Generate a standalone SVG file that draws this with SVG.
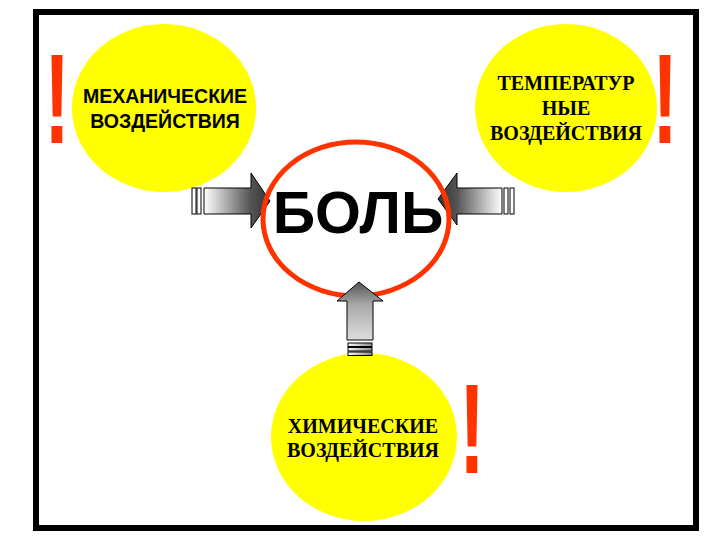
<svg xmlns="http://www.w3.org/2000/svg" width="720" height="540" viewBox="0 0 720 540">
<defs>
<style>
.yc{fill:#ffff00}
.ex{fill:#ff3300;font-family:"Liberation Sans",Arial,sans-serif;font-weight:bold;font-size:128px;text-anchor:middle}
.ts{font-family:"Liberation Sans",Arial,sans-serif;font-weight:bold;font-size:19.5px;text-anchor:middle;fill:#000}
.tr{font-family:"Liberation Serif","Times New Roman",serif;font-weight:bold;font-size:20px;text-anchor:middle;fill:#000}
.ar{stroke:#000;stroke-width:1}
.bar{fill:#fff;stroke:#000;stroke-width:1}
</style>
<linearGradient id="gl" gradientUnits="userSpaceOnUse" x1="204" y1="0" x2="270" y2="0">
<stop offset="0" stop-color="#ffffff"/><stop offset="0.7" stop-color="#555"/><stop offset="1" stop-color="#333"/>
</linearGradient>
<linearGradient id="gr" gradientUnits="userSpaceOnUse" x1="502" y1="0" x2="438" y2="0">
<stop offset="0" stop-color="#ffffff"/><stop offset="0.7" stop-color="#555"/><stop offset="1" stop-color="#333"/>
</linearGradient>
<linearGradient id="gb" gradientUnits="userSpaceOnUse" x1="0" y1="282" x2="0" y2="340">
<stop offset="0" stop-color="#555"/><stop offset="0.4" stop-color="#aaa"/><stop offset="1" stop-color="#ddd"/>
</linearGradient>
<linearGradient id="gbar" gradientUnits="userSpaceOnUse" x1="347" y1="0" x2="373" y2="0">
<stop offset="0" stop-color="#fff"/><stop offset="1" stop-color="#888"/>
</linearGradient>
</defs>
<rect x="0" y="0" width="720" height="540" fill="#fff"/>
<rect id="frame" x="36" y="12" width="660" height="516" fill="#fff" stroke="#000" stroke-width="6"/>

<g id="node-mech">
<ellipse class="yc" cx="164" cy="108" rx="92" ry="84"/>
<text class="ts" x="165" y="103">МЕХАНИЧЕСКИЕ</text>
<text class="ts" x="165" y="128">ВОЗДЕЙСТВИЯ</text>
</g>
<g id="node-temp">
<ellipse class="yc" cx="566" cy="108" rx="91" ry="84"/>
<text class="tr" x="566" y="90">ТЕМПЕРАТУР</text>
<text class="tr" x="566" y="115">НЫЕ</text>
<text class="tr" x="566" y="140">ВОЗДЕЙСТВИЯ</text>
</g>
<g id="node-chem">
<ellipse class="yc" cx="364" cy="437" rx="93" ry="84"/>
<text class="tr" x="363" y="433">ХИМИЧЕСКИЕ</text>
<text class="tr" x="363" y="457">ВОЗДЕЙСТВИЯ</text>
</g>

<g id="marks">
<text class="ex" transform="translate(57,143) scale(0.6,1)" x="0" y="0">!</text>
<text class="ex" transform="translate(665,143) scale(0.6,1)" x="0" y="0">!</text>
<text class="ex" transform="translate(472,473) scale(0.6,1)" x="0" y="0">!</text>
</g>

<g id="connectors">
<g id="arrow-left">
<rect class="bar" x="192" y="188" width="4" height="26"/>
<rect class="bar" x="197" y="188" width="4" height="26"/>
<path class="ar" fill="url(#gl)" d="M204,188 H251 V173 L270,201 L251,228 V214 H204 Z"/>
</g>
<g id="arrow-right">
<rect class="bar" x="504" y="188" width="4" height="26"/>
<rect class="bar" x="510" y="188" width="4" height="26"/>
<path class="ar" fill="url(#gr)" d="M502,188 H457 V173 L438,199 L457,225 V214 H502 Z"/>
</g>
</g>

<g id="node-pain">
<ellipse cx="356" cy="219" rx="93" ry="77" fill="none" stroke="#ff3300" stroke-width="5"/>
</g>

<g id="arrow-bottom">
<path class="ar" fill="url(#gb)" d="M347,340 V301 H337 L359,282 L383,301 H373 V340 Z"/>
<rect class="bar" x="348" y="343" width="24" height="3.5" style="fill:url(#gbar)"/>
<rect class="bar" x="348" y="347.5" width="24" height="3.5" style="fill:url(#gbar)"/>
<rect class="bar" x="348" y="352" width="24" height="3.5" style="fill:url(#gbar)"/>
</g>

<text x="358" y="233" font-family="'Liberation Sans',Arial,sans-serif" font-weight="bold" font-size="59" text-anchor="middle" fill="#000">БОЛЬ</text>
</svg>
